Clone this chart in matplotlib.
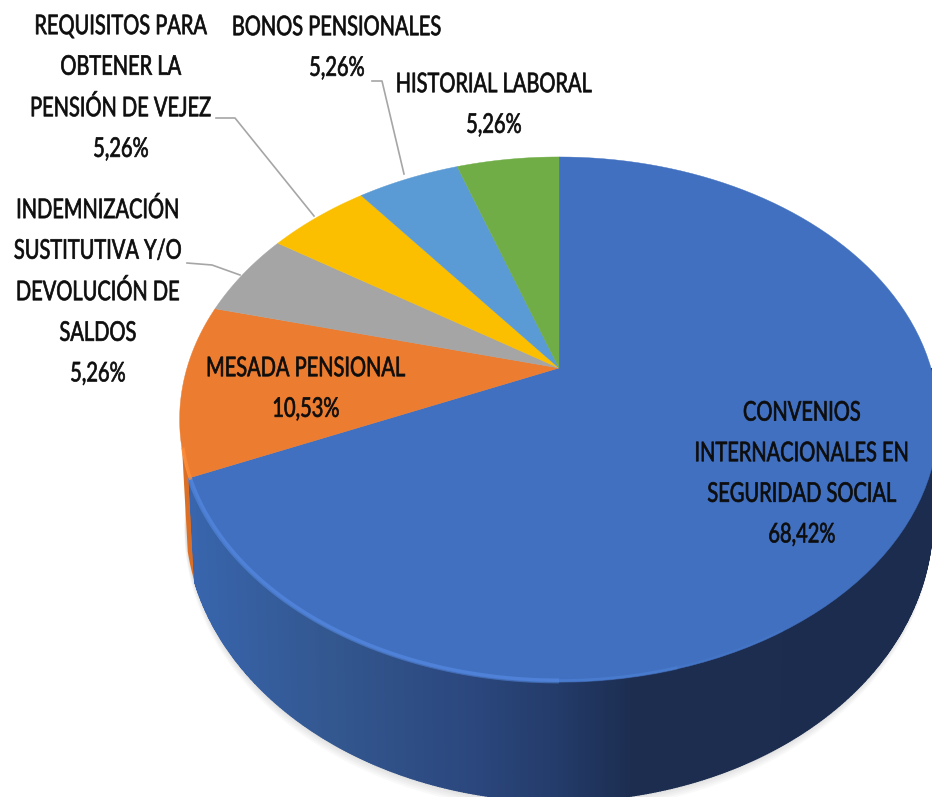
import numpy as np
import matplotlib
matplotlib.use('Agg')
import matplotlib.pyplot as plt
from matplotlib.colors import to_rgb
from matplotlib.patheffects import AbstractPathEffect
from matplotlib.transforms import Affine2D, Bbox

# slices clockwise from 12 o'clock
names = ['CONVENIOS\nINTERNACIONALES EN\nSEGURIDAD SOCIAL', 'MESADA PENSIONAL',
         'INDEMNIZACIÓN\nSUSTITUTIVA Y/O\nDEVOLUCIÓN DE\nSALDOS',
         'REQUISITOS PARA\nOBTENER LA\nPENSIÓN DE VEJEZ', 'BONOS PENSIONALES', 'HISTORIAL LABORAL']
values = [68.42, 10.53, 5.26, 5.26, 5.26, 5.26]
colors = ['#4170C0', '#EC7C30', '#A5A5A5', '#FBBF00', '#5B9BD5', '#70AD47']
value_labels = ['68,42%', '10,53%', '5,26%', '5,26%', '5,26%', '5,26%']

# where the labels sit (pixels)
label_xy = [(802, 474), (306, 389), (98, 292), (121, 88), (337, 48), (494, 105)]

# perspective of the disc
cx, cy = 559, 368
a, b, k = 372, 252.4, 0.196
depth = 96
squeeze_x = 0.74


def project(ang):
    # ang is degrees clockwise from the top
    x = np.sin(np.radians(ang))
    y = np.cos(np.radians(ang))
    w = 1 + k * y
    return cx + a * x / w, cy - b * y / w


def lower(ang):
    xx, yy = project(ang)
    w = 1 + k * np.cos(np.radians(ang))
    return cx + (xx - cx) * 0.985, yy + depth / w


# the labels in the picture are a tall narrow font, squeeze the glyphs sideways
class Squeeze(AbstractPathEffect):
    def __init__(self, xc, sx):
        super().__init__()
        self.xc = xc
        self.sx = sx

    def draw_path(self, renderer, gc, tpath, affine, rgbFace=None):
        gc0 = renderer.new_gc()
        gc0.copy_properties(gc)
        gc0.set_linewidth(0.5)
        gc0.set_foreground(rgbFace)
        squeeze = Affine2D().translate(-self.xc, 0).scale(self.sx, 1).translate(self.xc, 0)
        renderer.draw_path(gc0, tpath, affine + squeeze, rgbFace)
        gc0.restore()


def squeezed_text(x, y, s):
    t = ax.text(x, y, s, ha='center', va='center', fontsize=19.5,
                color='#0D0D0D', linespacing=1.78, zorder=7)
    xc = ax.transData.transform((x, y))[0]
    t.set_path_effects([Squeeze(xc, squeeze_x)])
    # report the squeezed box, not the unsqueezed one
    plain_extent = t.get_window_extent

    def extent(renderer=None, dpi=None):
        bb = plain_extent(renderer, dpi)
        return Bbox.from_extents(xc + (bb.x0 - xc) * squeeze_x, bb.y0,
                                 xc + (bb.x1 - xc) * squeeze_x, bb.y1)
    t.get_window_extent = extent
    return t


plt.rcParams['font.family'] = ['Lato', 'DejaVu Sans']

fig = plt.figure(figsize=(9.32, 7.97), dpi=100)
ax = fig.add_axes([0, 0, 1, 1])
ax.set_xlim(0, 932)
ax.set_ylim(797, 0)
ax.axis('off')

edges = np.cumsum([0] + values) / sum(values) * 360

# soft shadow under the disc
full = np.linspace(0, 360, 361)
lx, ly = lower(full)
for off in [10, 8, 6, 4, 2]:
    ax.fill(lx - off * 0.1, ly + off, color='black', alpha=0.025, lw=0, zorder=1)

# side walls: orange sliver on the left, then the blue wall
ang = np.linspace(edges[1], edges[1] + 6, 10)
xt, yt = project(ang)
xb, yb = lower(ang)
ax.fill(np.r_[xt, xb[::-1]], np.r_[yt, yb[::-1]], color='#DB6F25', lw=0, zorder=2)

wall_x = [190, 330, 470, 560, 632, 932]
wall_c = ['#3865AD', '#33578F', '#2B477E', '#233B69', '#1C2D50', '#1B2C4F']
wall_rgb = np.array([to_rgb(c) for c in wall_c])
ang = np.linspace(90, edges[1], 500)
xt, yt = project(ang)
xb, yb = lower(ang)
for i in range(len(ang) - 1):
    mid = (xt[i] + xt[i + 1]) / 2
    col = [np.interp(mid, wall_x, wall_rgb[:, j]) for j in range(3)]
    ax.fill([xt[i], xt[i + 1], xb[i + 1], xb[i]], [yt[i], yt[i + 1], yb[i + 1], yb[i]],
            color=col, ec=col, lw=1.0, zorder=3)

# top face
for i, col in enumerate(colors):
    ang = np.linspace(edges[i], edges[i + 1], 120)
    xx, yy = project(ang)
    ax.fill(np.r_[cx, xx], np.r_[cy, yy], color=col, lw=0.3, zorder=4)

# light rim along the front left edge of the blue slice
for start, stop, width, alpha in [(246.3, 180, 3.5, 0.5), (180, 165, 2.5, 0.3), (165, 150, 2, 0.12)]:
    xx, yy = project(np.linspace(start, stop, 120))
    ax.plot(xx, yy - 1, color='#5B93EE', lw=width, alpha=alpha, zorder=5, solid_capstyle='butt')
xx, yy = project(np.linspace(edges[1], edges[1] + 6, 20))
ax.plot(xx + 1, yy, color='#FF8F3A', lw=2.5, alpha=0.7, zorder=5)

# leader lines
leader_x = [[187, 212, 240], [216, 235, 314], [372, 382, 404]]
leader_y = [[263, 265, 275], [118, 118, 216], [81, 81, 174]]
for lxs, lys in zip(leader_x, leader_y):
    ax.plot(lxs, lys, color='#A6A6A6', lw=1.2, zorder=6)

for name, val, (x, y) in zip(names, value_labels, label_xy):
    squeezed_text(x, y, name + '\n' + val)

fig.savefig('out.png', dpi=100)
